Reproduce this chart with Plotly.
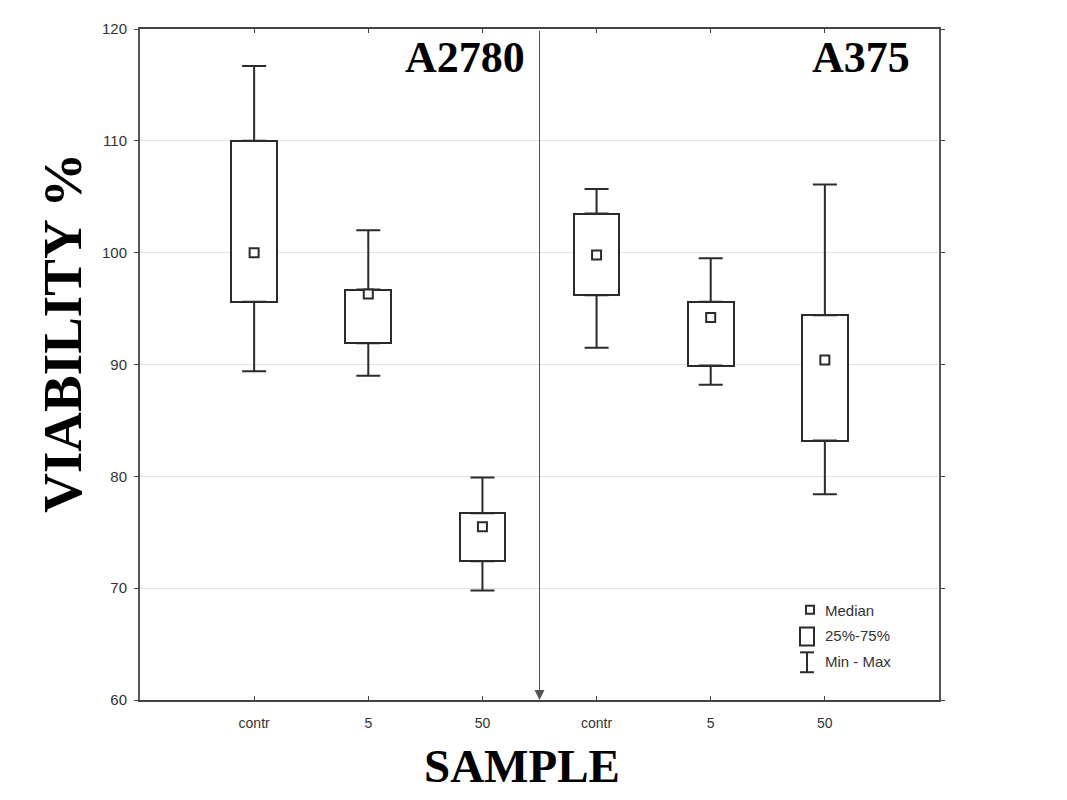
import plotly.graph_objects as go

# box-plot statistics (viability %)
samples = ["contr", "5", "50", "contr", "5", "50"]
maxs = [116.7, 102.0, 79.9, 105.7, 99.5, 106.1]
q3 = [110.0, 96.7, 76.7, 103.5, 95.6, 94.4]
medians = [100.0, 96.3, 75.5, 99.8, 94.2, 90.4]
q1 = [95.6, 91.9, 72.4, 96.2, 89.9, 83.2]
mins = [89.4, 89.0, 69.8, 91.5, 88.2, 78.4]
cell_lines = ["A2780", "A375"]

pos = list(range(len(samples)))
ink = "#2b2b2b"

fig = go.Figure()

# whiskers (upper: q3 -> max, lower: min -> q1)
fig.add_trace(go.Scatter(
    x=pos, y=q3, mode="markers", marker=dict(size=1, color="rgba(0,0,0,0)"),
    error_y=dict(type="data", symmetric=False,
                 array=[m - q for m, q in zip(maxs, q3)], arrayminus=[0] * 6,
                 color=ink, thickness=2, width=12),
    showlegend=False, hoverinfo="skip"))
fig.add_trace(go.Scatter(
    x=pos, y=q1, mode="markers", marker=dict(size=1, color="rgba(0,0,0,0)"),
    error_y=dict(type="data", symmetric=False,
                 array=[0] * 6, arrayminus=[q - m for q, m in zip(q1, mins)],
                 color=ink, thickness=2, width=12),
    showlegend=False, hoverinfo="skip"))

# 25%-75% boxes
fig.add_trace(go.Bar(
    x=pos, y=[a - b for a, b in zip(q3, q1)], base=q1, width=0.4,
    marker=dict(color="white", line=dict(color=ink, width=2)),
    showlegend=False, hoverinfo="skip"))

# medians
fig.add_trace(go.Scatter(
    x=pos, y=medians, mode="markers",
    marker=dict(symbol="square", size=9, color="white", line=dict(color=ink, width=2)),
    showlegend=False))

# divider arrow between the two cell lines
fig.add_annotation(x=2.5, y=60, ax=2.5, ay=120, xref="x", yref="y", axref="x", ayref="y",
                   showarrow=True, arrowhead=2, arrowsize=2, arrowwidth=1, arrowcolor="#555",
                   text="")

# cell line labels
for xp, name in zip([0.484, 0.966], cell_lines):
    fig.add_annotation(x=xp, y=0.957, xref="paper", yref="paper", text="<b>%s</b>" % name,
                       showarrow=False, xanchor="right", yanchor="middle",
                       font=dict(family="Liberation Serif", size=44, color="black"))

# axis titles
fig.add_annotation(x=-0.097, y=0.548, xref="paper", yref="paper", text="<b>VIABILITY %</b>",
                   textangle=-90, showarrow=False, xanchor="center", yanchor="middle",
                   font=dict(family="Liberation Serif", size=55, color="black"))
fig.add_annotation(x=0.478, y=-0.099, xref="paper", yref="paper", text="<b>SAMPLE</b>",
                   showarrow=False, xanchor="center", yanchor="middle",
                   font=dict(family="Liberation Serif", size=47, color="black"))

# hand-made legend
def px(x):
    return (x - 140) / 799

def py(y):
    return (700 - y) / 676

legend_line = dict(color=ink, width=2)
fig.add_shape(type="rect", xref="paper", yref="paper", x0=px(806), x1=px(814), y0=py(613), y1=py(605), line=legend_line)
fig.add_shape(type="rect", xref="paper", yref="paper", x0=px(800), x1=px(814), y0=py(645), y1=py(627), line=legend_line)
fig.add_shape(type="line", xref="paper", yref="paper", x0=px(807), x1=px(807), y0=py(672), y1=py(652), line=legend_line)
fig.add_shape(type="line", xref="paper", yref="paper", x0=px(800), x1=px(814), y0=py(652), y1=py(652), line=legend_line)
fig.add_shape(type="line", xref="paper", yref="paper", x0=px(800), x1=px(814), y0=py(672), y1=py(672), line=legend_line)
for yy, label in zip([610, 635, 661], ["Median", "25%-75%", "Min - Max"]):
    fig.add_annotation(x=px(823), y=py(yy), xref="paper", yref="paper", text=label, showarrow=False,
                       xanchor="left", yanchor="middle",
                       font=dict(family="Liberation Sans", size=15, color="#333"))

fig.update_xaxes(range=[-1, 6], tickmode="array", tickvals=pos, ticktext=samples,
                 showgrid=False, zeroline=False, showline=True, linecolor="#444", linewidth=2,
                 mirror="ticks", ticks="inside", ticklen=4, tickcolor="#444", ticklabelstandoff=9,
                 tickfont=dict(family="Liberation Sans", size=14, color="#333"))
fig.update_yaxes(range=[60, 120], dtick=10, showgrid=True, gridcolor="#e4e4e4", gridwidth=1,
                 zeroline=False, showline=True, linecolor="#555", linewidth=2,
                 mirror="ticks", ticks="outside", ticklen=4, tickcolor="#444", ticklabelstandoff=4,
                 tickfont=dict(family="Liberation Sans", size=15, color="#333"))

# page body adds an 8px offset, so margins are shifted to keep the plot box in place
fig.update_layout(width=1067, height=800, plot_bgcolor="white", paper_bgcolor="white",
                  margin=dict(l=132, r=136, t=16, b=108), bargap=0, showlegend=False)

fig.write_html("out.html")
